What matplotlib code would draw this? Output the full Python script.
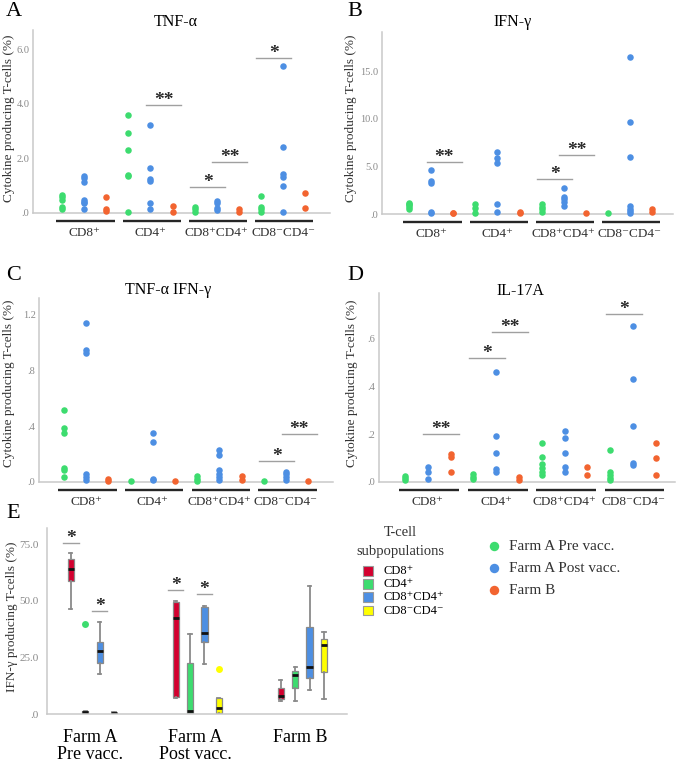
import matplotlib
matplotlib.use('Agg')
import matplotlib.pyplot as plt
from matplotlib.patches import Rectangle
from matplotlib.transforms import blended_transform_factory, offset_copy

plt.rcParams['font.family'] = ['Liberation Serif', 'DejaVu Serif']

W, H = 685, 762
fig = plt.figure(figsize=(W / 100, H / 100), dpi=100)

# ---------------- data ----------------
subsets = ['CD8⁺', 'CD4⁺', 'CD8⁺CD4⁺', 'CD8⁻CD4⁻']
groups = ['Farm A Pre vacc.', 'Farm A Post vacc.', 'Farm B']
group_colors = ['#3ddc6f', '#4d8fe3', '#f26430']

# Panel A: TNF-alpha
tnfa_pre = [[0.65, 0.58, 0.48, 0.23, 0.15], [3.59, 2.92, 2.31, 1.40, 1.34, 0.02],
            [0.21, 0.14, 0.05], [0.64, 0.23, 0.14, 0.03]]
tnfa_post = [[1.35, 1.28, 1.15, 0.48, 0.40, 0.35, 0.13], [3.21, 1.65, 1.23, 1.17, 0.38, 0.16],
             [0.44, 0.37, 0.18, 0.10], [5.39, 2.40, 1.44, 1.32, 1.00, 0.04]]
tnfa_farmb = [[0.57, 0.14, 0.08], [0.26, 0.05], [0.15, 0.05], [0.73, 0.18]]
tnfa_sig = [(1, 'post-b', '**', 3.95), (2, 'pre-post', '*', 0.95),
            (2, 'post-b', '**', 1.87), (3, 'pre-post', '*', 5.67)]

# Panel B: IFN-gamma
ifng_pre = [[1.19, 1.05, 0.94, 0.70, 0.49], [1.05, 0.60, 0.07],
            [1.05, 0.77, 0.49, 0.21], [0.08]]
ifng_post = [[4.61, 3.49, 3.28, 0.21, 0.07], [6.53, 5.90, 5.31, 1.02, 0.21],
             [2.76, 1.82, 1.54, 1.22, 0.87], [16.5, 9.64, 5.94, 0.84, 0.56, 0.28, 0.07]]
ifng_farmb = [[0.10, 0.07], [0.25, 0.10], [0.10], [0.50, 0.17]]
ifng_sig = [(0, 'post-b', '**', 5.42), (2, 'pre-post', '*', 3.67), (2, 'post-b', '**', 6.18)]

# Panel C: TNF-alpha IFN-gamma
dual_pre = [[0.52, 0.385, 0.353, 0.104, 0.084, 0.036], [0.01],
            [0.04, 0.02, 0.01], [0.01]]
dual_post = [[1.14, 0.944, 0.925, 0.06, 0.036, 0.017], [0.353, 0.288, 0.024, 0.012],
             [0.228, 0.192, 0.089, 0.055, 0.036, 0.012], [0.072, 0.055, 0.036, 0.012]]
dual_farmb = [[0.02, 0.01], [0.007], [0.04, 0.012], [0.007]]
dual_sig = [(3, 'pre-post', '*', 0.151), (3, 'post-b', '**', 0.346)]

# Panel D: IL-17A
il17_pre = [[0.025, 0.018, 0.008], [0.032, 0.022, 0.011],
            [0.164, 0.103, 0.074, 0.057, 0.043, 0.029], [0.134, 0.043, 0.029, 0.015, 0.008]]
il17_post = [[0.064, 0.043, 0.011], [0.459, 0.194, 0.123, 0.053, 0.042],
             [0.215, 0.183, 0.123, 0.062, 0.041], [0.653, 0.43, 0.234, 0.081, 0.071]]
il17_farmb = [[0.117, 0.106, 0.043], [0.022, 0.008], [0.062, 0.029], [0.164, 0.10, 0.03]]
il17_sig = [(0, 'post-b', '**', 0.202), (1, 'pre-post', '*', 0.518),
            (1, 'post-b', '**', 0.625), (3, 'pre-post', '*', 0.703)]

# Panel E: IFN-gamma producing T-cells, box plots (per group: CD8+, CD4+, CD8+CD4+, CD8-CD4-)
box_labels = ['CD8⁺', 'CD4⁺', 'CD8⁺CD4⁺', 'CD8⁻CD4⁻']
box_colors = ['#d3002f', '#3ddc6f', '#4d8fe3', '#ffff00']
e_whislo = [[46.4, 0.0, 17.7, 0.0], [6.9, 0.0, 22.1, 0.0], [5.7, 5.7, 10.6, 6.5]]
e_q1 = [[58.8, 0.4, 22.7, 0.1], [7.6, 0.6, 32.0, 0.6], [6.5, 11.4, 15.8, 18.4]]
e_med = [[64.1, 0.9, 28.0, 0.4], [42.6, 1.3, 35.7, 2.8], [8.0, 17.1, 20.9, 30.5]]
e_q3 = [[68.4, 1.3, 31.7, 0.6], [49.6, 22.7, 47.1, 6.9], [11.6, 19.0, 38.6, 33.1]]
e_whishi = [[71.0, 1.5, 40.8, 0.7], [50.0, 35.4, 47.7, 6.9], [15.0, 20.6, 56.6, 36.4]]
e_fliers = [[[], [39.8], [], []], [[], [], [], [19.7]], [[], [], [], []]]
e_sig = [(0, 0, '*', 75.4), (0, 2, '*', 45.5), (1, 0, '*', 54.8), (1, 2, '*', 53.0)]
e_group_lines = [['Farm A', 'Pre vacc.'], ['Farm A', 'Post vacc.'], ['Farm B']]

# ---------------- helpers ----------------
def fx(x):
    return x / W


def fy(y):
    return 1 - y / H


def px_axes(left, top, right, bottom):
    return fig.add_axes([fx(left), fy(bottom), (right - left) / W, (bottom - top) / H])


def style_axis(ax, ticks, ticklabels, tsize, pad):
    for s in ('top', 'right'):
        ax.spines[s].set_visible(False)
    for s in ('left', 'bottom'):
        ax.spines[s].set_color('#c9c9c9')
        ax.spines[s].set_linewidth(1.1)
    ax.set_xticks([])
    ax.set_yticks(ticks)
    ax.set_yticklabels(ticklabels, color='#8a8a8a', fontsize=tsize)
    ax.tick_params(axis='y', length=0, pad=pad)
    ax.patch.set_alpha(0)


def star_text(ax, x, y, s):
    ax.text(x, y, s, ha='center', va='baseline', fontsize=14, fontweight='bold',
            color='#2a2a2a', transform=offset_copy(ax.transData, fig=fig, y=0, units='dots'))


def dot_panel(box, ytop, x0px, step, pre, post, farmb, sig, ticks, ticklabels,
              title, title_xy, ylab_xy, letter, letter_xy):
    left, top, right, bottom = box
    ax = px_axes(left, top, right, bottom)
    ax.set_xlim((left - x0px) / step, (right - x0px) / step)
    ax.set_ylim(0, ytop)
    style_axis(ax, ticks, ticklabels, 7.5, 2.5)
    for ci in range(4):
        for gi, vals in enumerate((pre[ci], post[ci], farmb[ci])):
            ax.scatter([3 * ci + gi] * len(vals), vals, s=22, color=group_colors[gi],
                       lw=0, zorder=3, clip_on=False)
    # group underlines and labels
    tr = blended_transform_factory(ax.transData, ax.transAxes)
    hpx = bottom - top
    for ci, lab in enumerate(subsets):
        x1, x2 = 3 * ci - 0.25, 3 * ci + 2 + 0.38
        ax.plot([x1, x2], [-8 / hpx, -8 / hpx], color='#262626', lw=1.7,
                transform=tr, clip_on=False, solid_capstyle='butt')
        ax.text(3 * ci + 1, -20 / hpx, lab, transform=tr, ha='center', va='center',
                fontsize=9.5, color='#333333')
    # significance
    for ci, kind, star, yv in sig:
        lo = 3 * ci if kind == 'pre-post' else 3 * ci + 1
        x1, x2 = lo - 0.2, lo + 1 + 0.38
        ax.plot([x1, x2], [yv, yv], color='#a0a0a0', lw=1.0, clip_on=False)
        star_text(ax, (x1 + x2) / 2, yv, star)
    fig.text(fx(title_xy[0]), fy(title_xy[1]), title, ha='center', va='center', fontsize=11.5)
    fig.text(fx(ylab_xy[0]), fy(ylab_xy[1]), 'Cytokine producing T-cells (%)', rotation=90,
             ha='center', va='center', fontsize=9.5, color='#333333')
    fig.text(fx(letter_xy[0]), fy(letter_xy[1]), letter, ha='center', va='center', fontsize=16)
    return ax


dot_panel((33, 30, 330, 213), 6.7, 62, 22.1, tnfa_pre, tnfa_post, tnfa_farmb, tnfa_sig,
          [0, 2, 4, 6], ['.0', '2.0', '4.0', '6.0'], 'TNF-α', (176, 22), (9, 118), 'A', (14, 12))
dot_panel((382, 32, 673, 214), 19.1, 409, 22.1, ifng_pre, ifng_post, ifng_farmb, ifng_sig,
          [0, 5, 10, 15], ['.0', '5.0', '10.0', '15.0'], 'IFN-γ', (513, 22), (351, 118), 'B', (355, 11))
dot_panel((39, 298, 333, 482), 1.32, 64, 22.2, dual_pre, dual_post, dual_farmb, dual_sig,
          [0, 0.4, 0.8, 1.2], ['.0', '.4', '.8', '1.2'], 'TNF-α IFN-γ', (168, 290), (9, 383), 'C', (14, 276))
dot_panel((379, 293, 675, 482), 0.79, 405, 22.8, il17_pre, il17_post, il17_farmb, il17_sig,
          [0, 0.2, 0.4, 0.6], ['.0', '.2', '.4', '.6'], 'IL-17A', (520, 291), (352, 383), 'D', (355, 276))

# ---------------- Panel E ----------------
eleft, etop, eright, ebottom = 47, 528, 347, 714
axE = px_axes(eleft, etop, eright, ebottom)
axE.set_xlim((0 - 2) / 14.4, 20.7)
axE.set_ylim(0, (ebottom - etop) / 2.263)
style_axis(axE, [0, 25, 50, 75], ['.0', '25.0', '50.0', '75.0'], 8, 6)
centers = [3.02, 10.3, 17.6]
stats, positions, cols = [], [], []
for gi in range(3):
    for si in range(4):
        stats.append(dict(whislo=e_whislo[gi][si], q1=e_q1[gi][si], med=e_med[gi][si],
                          q3=e_q3[gi][si], whishi=e_whishi[gi][si], fliers=e_fliers[gi][si]))
        positions.append(centers[gi] + (si - 1.5))
        cols.append(box_colors[si])
bp = axE.bxp(stats, positions=positions, widths=0.44, patch_artist=True, showfliers=True,
             capwidths=0.22,
             boxprops=dict(edgecolor='#8a8a8a', linewidth=0.9),
             whiskerprops=dict(color='#8a8a8a', linewidth=1.3),
             capprops=dict(color='#8a8a8a', linewidth=1.3),
             medianprops=dict(color='#111111', linewidth=2.0),
             manage_ticks=False)
for patch, c in zip(bp['boxes'], cols):
    patch.set_facecolor(c)
for fl, c in zip(bp['fliers'], cols):
    fl.set(marker='o', markerfacecolor=c, markeredgecolor='none', markersize=5)
for gi, si, star, yv in e_sig:
    xc = centers[gi] + (si - 1.5)
    axE.plot([xc - 0.53, xc + 0.53], [yv, yv], color='#a0a0a0', lw=1.0, clip_on=False)
    star_text(axE, xc, yv, star)
trE = blended_transform_factory(axE.transData, fig.transFigure)
for gi, lines in enumerate(e_group_lines):
    for li, t in enumerate(lines):
        axE.text(centers[gi] - 0.15, fy(742 + 17 * li), t, transform=trE, ha='center',
                 va='baseline', fontsize=13)
fig.text(fx(12), fy(617), 'IFN-γ producing T-cells (%)', rotation=90, ha='center',
         va='center', fontsize=9.5, color='#333333')
fig.text(fx(13), fy(513), 'E', ha='center', va='center', fontsize=16)

# legend: T-cell subpopulations
fig.text(fx(400), fy(532), 'T-cell', ha='center', va='center', fontsize=10.5, color='#333333')
fig.text(fx(400), fy(551), 'subpopulations', ha='center', va='center', fontsize=10.5, color='#333333')
for i, (lab, c) in enumerate(zip(box_labels, box_colors)):
    yc = 571 + 13.2 * i
    fig.patches.append(Rectangle((fx(363), fy(yc + 4.5)), 9.5 / W, 9.5 / H, facecolor=c,
                                 edgecolor='#9a9a9a', linewidth=0.8, transform=fig.transFigure))
    fig.text(fx(383), fy(yc), lab, ha='left', va='center', fontsize=9)

# legend: groups
for i, (lab, c) in enumerate(zip(groups, group_colors)):
    yc = 546 + 22.2 * i
    fig.lines.append(plt.Line2D([fx(494)], [fy(yc)], marker='o', markersize=6.8, color=c,
                                markeredgewidth=0, linestyle='none', transform=fig.transFigure))
    fig.text(fx(509), fy(yc), lab, ha='left', va='center', fontsize=11, color='#333333')

fig.savefig('out.png', dpi=100)
